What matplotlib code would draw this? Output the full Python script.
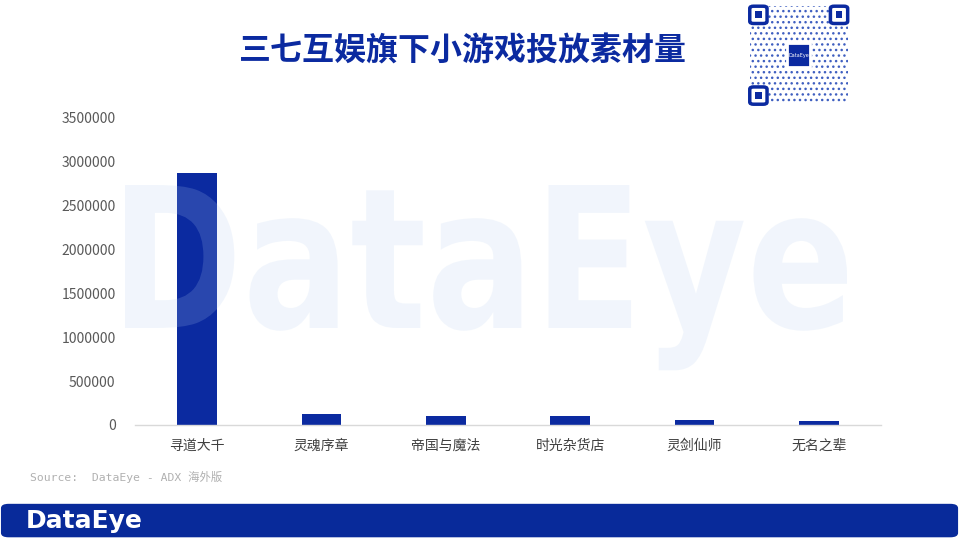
import matplotlib.pyplot as plt
from matplotlib.patches import FancyBboxPatch, Rectangle, PathPatch
from matplotlib.textpath import TextPath
from matplotlib.font_manager import FontProperties
from matplotlib.transforms import Affine2D

plt.rcParams['font.family'] = ['Noto Sans CJK SC', 'DejaVu Sans']

games = ['寻道大千', '灵魂序章', '帝国与魔法', '时光杂货店', '灵剑仙师', '无名之辈']
materials = [2870000, 125000, 103000, 103000, 57000, 46000]
yticks = [0, 500000, 1000000, 1500000, 2000000, 2500000, 3000000, 3500000]

blue = '#0b2aa0'
W, H = 960, 540

fig = plt.figure(figsize=(9.6, 5.4), dpi=100)
ax = fig.add_axes([0.1406, 0.213, 0.777, 0.5685])

ax.bar(games, materials, width=0.32, color=blue, zorder=2)
ax.set_xlim(-0.5, len(games) - 0.5)
ax.set_ylim(0, 3500000)
ax.set_yticks(yticks)
ax.set_yticklabels([str(v) for v in yticks])
ax.tick_params(axis='y', length=0, labelsize=10, labelcolor='#595959', pad=14)
ax.tick_params(axis='x', length=0, labelsize=10, labelcolor='#404040', pad=10)
for s in ['top', 'right', 'left']:
    ax.spines[s].set_visible(False)
ax.spines['bottom'].set_color('#d9d9d9')
ax.spines['bottom'].set_linewidth(1)

# watermark, stretched to the box it fills in the reference
wm_font = FontProperties(family='DejaVu Sans', weight='bold')
tp = TextPath((0, 0), 'DataEye', size=1, prop=wm_font)
cap = TextPath((0, 0), 'D', size=1, prop=wm_font).get_extents()
bb = tp.get_extents()
sx = 722 / bb.width
sy = 143 / (cap.y1 - cap.y0)
tr = Affine2D().translate(-bb.x0, -cap.y0).scale(sx / W, sy / H).translate(125 / W, (H - 328) / H)
wm = PathPatch(tr.transform_path(tp), transform=fig.transFigure, facecolor='#b4cdf0',
               edgecolor='none', alpha=0.18, zorder=5)
fig.patches.append(wm)

fig.text(0.482, 0.905, '三七互娱旗下小游戏投放素材量', fontsize=23, fontweight='bold',
         color='#0b2aa0', ha='center', va='center')

fig.text(0.031, 0.117, 'Source:  DataEye - ADX 海外版', fontsize=8.2, color='#b0b0b0',
         family=['DejaVu Sans Mono', 'Noto Sans CJK SC'], ha='left', va='center')

# bottom banner
banner = FancyBboxPatch((0.001, 0.005), 0.997, 0.062, boxstyle='round,pad=0,rounding_size=0.008',
                        transform=fig.transFigure, facecolor='#082a9a', edgecolor='none')
fig.patches.append(banner)
fig.text(0.027, 0.035, 'DataEye', fontsize=18, fontweight='bold', color='white',
         family='DejaVu Sans', ha='left', va='center')

# QR code placeholder
qx, qy, qw, qh = 0.781, 0.807, 0.102, 0.1815
fig.patches.append(Rectangle((qx, qy), qw, qh, transform=fig.transFigure,
                             facecolor='white', edgecolor='#3f5fc0', hatch='...',
                             linewidth=0))
fw, fh = 0.018, 0.032
for (fx, fy) in [(qx, qy + qh - fh), (qx + qw - fw, qy + qh - fh), (qx, qy)]:
    fig.patches.append(FancyBboxPatch((fx, fy), fw, fh, boxstyle='round,pad=0,rounding_size=0.004',
                                      transform=fig.transFigure, facecolor='white',
                                      edgecolor=blue, linewidth=2.5))
    fig.patches.append(Rectangle((fx + fw * 0.3, fy + fh * 0.3), fw * 0.4, fh * 0.4,
                                 transform=fig.transFigure, facecolor=blue, edgecolor='none'))
fig.patches.append(Rectangle((qx + qw * 0.38, qy + qh * 0.38), qw * 0.24, qh * 0.24,
                             transform=fig.transFigure, facecolor=blue, edgecolor='white',
                             linewidth=2))
fig.text(qx + qw * 0.5, qy + qh * 0.5, 'DataEye', fontsize=3.5, color='white',
         ha='center', va='center', family='DejaVu Sans')

fig.savefig('out.png', dpi=100)
